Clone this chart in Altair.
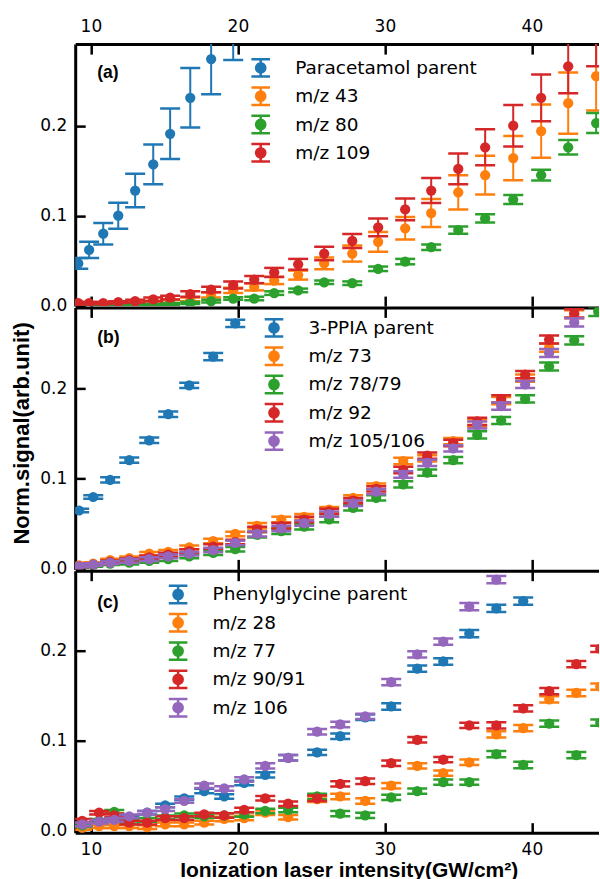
import math
import altair as alt
import pandas as pd

# ---------------- data ----------------
X_TICKS = [10, 20, 30, 40]
X_DOMAIN = [8.932, 44.578]

# panel (a): Paracetamol
X_A = [9.14, 9.88, 10.84, 11.86, 13.01, 14.24, 15.39, 16.76, 18.18, 19.68, 21.11, 22.47,
       24.10, 25.87, 27.78, 29.54, 31.38, 33.15, 34.99, 36.82, 38.73, 40.63, 42.47, 44.37]
NAMES_A = ["Paracetamol parent", "m/z 43", "m/z 80", "m/z 109"]
BLUE_A_Y = [0.047, 0.062, 0.080, 0.100, 0.128, 0.157, 0.191, 0.231, 0.274, 0.315]
BLUE_A_E = [0.006, 0.009, 0.012, 0.0145, 0.0185, 0.022, 0.028, 0.033, 0.039, 0.042]
ORANGE_A_Y = [0.002, 0.002, 0.002, 0.003, 0.003, 0.004, 0.005, 0.007, 0.012, 0.017, 0.021, 0.028,
              0.034, 0.047, 0.058, 0.071, 0.086, 0.103, 0.126, 0.145, 0.164, 0.194, 0.225, 0.255]
ORANGE_A_E = [0.001, 0.001, 0.001, 0.001, 0.001, 0.0015, 0.002, 0.002, 0.003, 0.003, 0.004, 0.004,
              0.005, 0.0065, 0.009, 0.011, 0.0125, 0.0155, 0.019, 0.0215, 0.0245, 0.0295, 0.034, 0.038]
GREEN_A_Y = [0.000, 0.000, 0.000, 0.000, 0.001, 0.001, 0.002, 0.003, 0.005, 0.008, 0.008, 0.014,
             0.017, 0.026, 0.025, 0.041, 0.049, 0.065, 0.084, 0.097, 0.118, 0.145, 0.176, 0.203]
GREEN_A_E = [0.0005, 0.0005, 0.0005, 0.0005, 0.001, 0.001, 0.001, 0.001, 0.0015, 0.0015, 0.002, 0.002,
             0.002, 0.002, 0.002, 0.0025, 0.003, 0.003, 0.004, 0.0045, 0.005, 0.006, 0.008, 0.011]
RED_A_Y = [0.003, 0.003, 0.003, 0.004, 0.005, 0.007, 0.009, 0.013, 0.018, 0.023, 0.029, 0.037,
           0.046, 0.058, 0.072, 0.087, 0.107, 0.128, 0.152, 0.176, 0.200, 0.231, 0.266, 0.298]
RED_A_E = [0.001, 0.001, 0.001, 0.001, 0.0015, 0.002, 0.002, 0.003, 0.003, 0.004, 0.004, 0.005,
           0.006, 0.0075, 0.0078, 0.0098, 0.012, 0.014, 0.017, 0.020, 0.023, 0.026, 0.030, 0.032]

# panel (b): 3-PPIA
X_B = [9.20, 10.16, 11.31, 12.61, 13.97, 15.26, 16.69, 18.32, 19.82, 21.31, 22.95, 24.51,
       26.21, 27.84, 29.41, 31.25, 32.88, 34.65, 36.28, 37.91, 39.54, 41.17, 42.88, 44.51]
NAMES_B = ["3-PPIA parent", "m/z 73", "m/z 78/79", "m/z 92", "m/z 105/106"]
BLUE_B_Y = [0.064, 0.079, 0.098, 0.120, 0.142, 0.171, 0.203, 0.235, 0.272]
BLUE_B_E = [0.002, 0.002, 0.003, 0.003, 0.003, 0.003, 0.003, 0.004, 0.004]
ORANGE_B_Y = [0.003, 0.005, 0.009, 0.011, 0.016, 0.018, 0.023, 0.030, 0.038, 0.047, 0.054, 0.057,
              0.065, 0.078, 0.091, 0.119, 0.122, 0.141, 0.161, 0.186, 0.211, 0.245, 0.282, 0.310]
ORANGE_B_E = [0.001, 0.0015, 0.0015, 0.002, 0.002, 0.002, 0.002, 0.0025, 0.0025, 0.003, 0.003, 0.003,
              0.003, 0.003, 0.003, 0.0035, 0.0035, 0.0035, 0.004, 0.004, 0.004, 0.0045, 0.0045, 0.005]
GREEN_B_Y = [0.001, 0.003, 0.005, 0.006, 0.008, 0.010, 0.013, 0.017, 0.021, 0.037, 0.041, 0.046,
             0.054, 0.067, 0.078, 0.093, 0.106, 0.120, 0.148, 0.164, 0.188, 0.224, 0.253, 0.285]
GREEN_B_E = [0.001, 0.0015, 0.0015, 0.002, 0.002, 0.002, 0.002, 0.0025, 0.0025, 0.003, 0.003, 0.003,
             0.003, 0.003, 0.003, 0.0035, 0.0035, 0.0035, 0.004, 0.004, 0.004, 0.0045, 0.0045, 0.005]
RED_B_Y = [0.002, 0.004, 0.007, 0.009, 0.012, 0.015, 0.019, 0.024, 0.029, 0.043, 0.047, 0.054,
           0.063, 0.075, 0.088, 0.109, 0.125, 0.139, 0.163, 0.188, 0.215, 0.254, 0.283, 0.310]
RED_B_E = [0.001, 0.0015, 0.0015, 0.002, 0.002, 0.002, 0.002, 0.0025, 0.0025, 0.003, 0.003, 0.003,
           0.003, 0.003, 0.003, 0.0035, 0.0035, 0.0035, 0.004, 0.004, 0.004, 0.0045, 0.0045, 0.005]
PURPLE_B_Y = [0.002, 0.004, 0.006, 0.008, 0.010, 0.013, 0.016, 0.020, 0.028, 0.038, 0.044, 0.050,
              0.060, 0.072, 0.085, 0.104, 0.117, 0.133, 0.159, 0.180, 0.204, 0.239, 0.273, 0.300]
PURPLE_B_E = [0.001, 0.0015, 0.0015, 0.002, 0.002, 0.002, 0.002, 0.0025, 0.0025, 0.003, 0.003, 0.003,
              0.003, 0.003, 0.003, 0.0035, 0.0035, 0.0035, 0.004, 0.004, 0.004, 0.0045, 0.0045, 0.005]

# panel (c): Phenylglycine
X_C = [9.41, 10.56, 11.59, 12.61, 13.83, 15.05, 16.35, 17.71, 19.07, 20.43, 21.86, 23.42,
       25.39, 26.96, 28.66, 30.43, 32.20, 33.97, 35.74, 37.58, 39.41, 41.18, 43.02, 44.65]
NAMES_C = ["Phenylglycine parent", "m/z 28", "m/z 77", "m/z 90/91", "m/z 106"]
BLUE_C_Y = [0.006, 0.009, 0.012, 0.014, 0.020, 0.028, 0.036, 0.044, 0.038, 0.053, 0.062, 0.081,
            0.087, 0.105, 0.126, 0.138, 0.180, 0.188, 0.219, 0.247, 0.255]
BLUE_C_E = [0.002, 0.002, 0.002, 0.002, 0.002, 0.002, 0.002, 0.0025, 0.0025, 0.0025, 0.003, 0.003,
            0.003, 0.003, 0.003, 0.0035, 0.0035, 0.0035, 0.004, 0.004, 0.004]
ORANGE_C_Y = [0.003, 0.005, 0.005, 0.005, 0.004, 0.007, 0.007, 0.009, 0.013, 0.014, 0.020, 0.015,
              0.035, 0.038, 0.033, 0.050, 0.072, 0.064, 0.076, 0.107, 0.114, 0.146, 0.153, 0.160]
ORANGE_C_E = [0.002, 0.002, 0.002, 0.002, 0.002, 0.002, 0.002, 0.002, 0.0025, 0.0025, 0.0025, 0.0025,
              0.003, 0.003, 0.003, 0.003, 0.003, 0.003, 0.003, 0.0035, 0.0035, 0.0035, 0.0035, 0.0035]
GREEN_C_Y = [0.006, 0.011, 0.021, 0.010, 0.012, 0.015, 0.017, 0.016, 0.017, 0.018, 0.022, 0.023,
             0.038, 0.019, 0.017, 0.037, 0.044, 0.054, 0.054, 0.085, 0.073, 0.119, 0.084, 0.120]
GREEN_C_E = [0.002, 0.002, 0.002, 0.002, 0.002, 0.002, 0.002, 0.002, 0.0025, 0.0025, 0.0025, 0.0025,
             0.003, 0.003, 0.003, 0.003, 0.003, 0.003, 0.003, 0.0035, 0.0035, 0.0035, 0.0035, 0.0035]
RED_C_Y = [0.011, 0.020, 0.017, 0.009, 0.009, 0.014, 0.014, 0.018, 0.017, 0.023, 0.036, 0.030,
           0.036, 0.052, 0.055, 0.075, 0.101, 0.079, 0.117, 0.117, 0.136, 0.155, 0.185, 0.202]
RED_C_E = [0.002, 0.002, 0.002, 0.002, 0.002, 0.002, 0.002, 0.002, 0.0025, 0.0025, 0.0025, 0.0025,
           0.003, 0.003, 0.003, 0.003, 0.003, 0.003, 0.003, 0.0035, 0.0035, 0.0035, 0.0035, 0.0035]
PURPLE_C_Y = [0.007, 0.010, 0.012, 0.016, 0.020, 0.024, 0.033, 0.050, 0.047, 0.057, 0.072, 0.081,
              0.110, 0.118, 0.127, 0.165, 0.196, 0.210, 0.249, 0.279]
PURPLE_C_E = [0.002, 0.002, 0.002, 0.002, 0.002, 0.002, 0.002, 0.0025, 0.0025, 0.0025, 0.003, 0.003,
              0.003, 0.003, 0.003, 0.0035, 0.0035, 0.0035, 0.004, 0.004]

COLORS = ["#1f77b4", "#ff7f0e", "#2ca02c", "#d62728", "#9467bd"]
Y_TICKS = [0, 0.1, 0.2]
Y_TITLE = "Norm.signal(arb.unit)"
X_TITLE = "Ionization laser intensity(GW/cm\u00b2)"


def build(xs, names, ys, es):
    rows = []
    for n, y, e in zip(names, ys, es):
        for xv, yv, ev in zip(xs, y, e):
            rows.append({"x": xv, "y": yv, "lo": yv - ev, "hi": yv + ev, "series": n})
    return pd.DataFrame(rows)


DF_A = build(X_A, NAMES_A, [BLUE_A_Y, ORANGE_A_Y, GREEN_A_Y, RED_A_Y],
             [BLUE_A_E, ORANGE_A_E, GREEN_A_E, RED_A_E])
DF_B = build(X_B, NAMES_B, [BLUE_B_Y, ORANGE_B_Y, GREEN_B_Y, RED_B_Y, PURPLE_B_Y],
             [BLUE_B_E, ORANGE_B_E, GREEN_B_E, RED_B_E, PURPLE_B_E])
DF_C = build(X_C, NAMES_C, [BLUE_C_Y, ORANGE_C_Y, GREEN_C_Y, RED_C_Y, PURPLE_C_Y],
             [BLUE_C_E, ORANGE_C_E, GREEN_C_E, RED_C_E, PURPLE_C_E])


# legend icon: error bar with a dot (dot made of concentric rings so it looks filled)
def ring(r, n=16):
    pts = [(r * math.cos(2 * math.pi * k / n), r * math.sin(2 * math.pi * k / n)) for k in range(n)]
    return "M" + "L".join(f"{px:.3f},{py:.3f}" for px, py in pts) + "Z"


ICON = ("M-0.93,-0.87L0.93,-0.87M0,-0.87L0,0.87M-0.93,0.87L0.93,0.87"
        + "".join(ring(r) for r in (0.06, 0.16, 0.26, 0.36, 0.46)))

W, H = 524, 262
TICK_IN = alt.ExprRef(expr="-10")


def panel(df, names, colors, ydom, top_labels, bottom_labels, ytitle, label, label_offset, leg_x, leg_y):
    xs = alt.Scale(domain=X_DOMAIN, nice=False, zero=False)
    ys = alt.Scale(domain=ydom, nice=False, zero=False)
    cs = alt.Scale(domain=names, range=colors)

    top_axis = alt.Axis(orient="top", values=X_TICKS, format="d", tickSize=TICK_IN,
                        labels=top_labels, labelPadding=18.4, domain=True, title=None)
    if bottom_labels:
        bottom_axis = alt.Axis(orient="bottom", values=X_TICKS, format="d", tickSize=TICK_IN,
                               labels=True, labelPadding=19.0, domain=True, title=X_TITLE,
                               titleX=273.5, titleY=43.5, titleBaseline="alphabetic",
                               titleFontSize=21)
    else:
        bottom_axis = alt.Axis(orient="bottom", values=X_TICKS, tickSize=TICK_IN,
                               labels=False, domain=False, title=None)
    if ytitle:
        y_axis = alt.Axis(orient="left", values=Y_TICKS, format=".1f", tickSize=TICK_IN,
                          labelPadding=18.5, domain=True, title=ytitle, titleX=-46.2, titleY=125.5,
                          titleAngle=270, titleBaseline="alphabetic", titleAlign="center",
                          titleFontSize=22)
    else:
        y_axis = alt.Axis(orient="left", values=Y_TICKS, format=".1f", tickSize=TICK_IN,
                          labelPadding=18.5, domain=True, title=None)

    legend = alt.Legend(orient="none", legendX=leg_x, legendY=leg_y, title=None, direction="vertical",
                        symbolType=ICON, symbolSize=400, symbolStrokeWidth=2.5,
                        symbolFillColor="transparent", symbolOpacity=1,
                        labelFont="DejaVu Sans", labelFontSize=18.5, labelColor="black",
                        labelOffset=23, labelLimit=400, rowPadding=-0.7, padding=0)

    layers = []
    for i, n in enumerate(names):
        d = df[df["series"] == n]
        first = i == 0
        base = alt.Chart(d)
        layers.append(base.mark_rule(strokeWidth=2, clip=True).encode(
            x=alt.X("x:Q", scale=xs, axis=top_axis if first else None),
            y=alt.Y("lo:Q", scale=ys, axis=y_axis),
            y2="hi:Q",
            color=alt.Color("series:N", scale=cs, legend=legend if first else None)))
        for fld, ax in (("lo", bottom_axis), ("hi", None)):
            layers.append(base.mark_tick(orient="horizontal", size=20, thickness=2.5,
                                         opacity=1, clip=True).encode(
                x=alt.X("x:Q", scale=xs, axis=ax if first else None),
                y=alt.Y(f"{fld}:Q", scale=ys, axis=y_axis),
                color=alt.Color("series:N", scale=cs, legend=None)))
        layers.append(base.mark_circle(size=105, opacity=1, clip=True).encode(
            x=alt.X("x:Q", scale=xs, axis=None),
            y=alt.Y("y:Q", scale=ys, axis=y_axis),
            color=alt.Color("series:N", scale=cs, legend=None)))

    return alt.layer(*layers).resolve_axis(x="independent", y="shared").properties(
        width=W, height=H,
        title=alt.TitleParams(text=label, anchor="start", frame="group", orient="top",
                              offset=label_offset, dx=22, font="Liberation Sans",
                              fontSize=17.5, fontWeight="bold", color="black"))


pa = panel(DF_A, NAMES_A, COLORS[:4], [-0.00044, 0.29067], True, False, None, "(a)", -63.6, 174, 12.3)
pb = panel(DF_B, NAMES_B, COLORS, [-0.00144, 0.28967], False, False, Y_TITLE, "(b)", -40.5, 187.3, 9.0)
pc = panel(DF_C, NAMES_C, COLORS, [-0.00222, 0.28889], False, True, None, "(c)", -42.2, 91.4, 12.3)

chart = (
    alt.vconcat(pa, pb, pc, spacing=1.3, bounds="flush")
    .resolve_scale(color="independent")
    .properties(padding={"left": 10.2, "top": 17.1, "right": 0, "bottom": 0}, background="white")
    .configure_view(stroke=None)
    .configure_axis(domainColor="black", domainWidth=3, tickColor="black", tickWidth=2.5,
                    labelColor="black", labelFont="DejaVu Sans", labelFontSize=17,
                    titleColor="black", titleFont="Liberation Sans", titleFontWeight="bold",
                    grid=False)
)

chart.save("out.html", embed_options={"renderer": "svg", "actions": False})
